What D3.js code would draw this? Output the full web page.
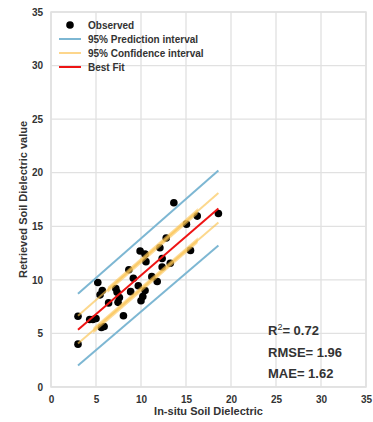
<!DOCTYPE html>
<html>
<head>
<meta charset="utf-8">
<script src="https://cdn.jsdelivr.net/npm/d3@7/dist/d3.min.js"></script>
<style>
  html, body { margin: 0; padding: 0; background: #fff; }
  svg { display: block; font-family: "Liberation Sans", Arial, sans-serif; }
</style>
</head>
<body>
<svg id="chart" width="373" height="422"></svg>
<script>
// Observed vs retrieved soil dielectric
const obsX = [3.0, 3.0, 4.3, 4.65, 5.0, 5.2, 5.45, 5.7, 5.6, 5.9, 6.4, 7.2, 7.35, 7.6, 7.45,
              8.05, 8.65, 8.85, 9.15, 9.7, 9.9, 10.45, 10.55, 10.45, 10.2, 10.0, 11.2, 11.8,
              12.1, 12.35, 12.35, 12.8, 13.25, 13.65, 15.05, 15.5, 16.25, 18.6];
const obsY = [6.6, 4.0, 6.3, 6.3, 6.4, 9.75, 8.6, 9.0, 5.55, 5.65, 7.85, 9.2, 8.85, 8.35, 7.9,
              6.65, 10.95, 8.9, 10.15, 9.45, 12.7, 12.4, 11.7, 9.0, 8.45, 8.05, 10.3, 9.85,
              13.0, 12.0, 11.2, 13.9, 11.55, 17.2, 15.2, 12.75, 15.95, 16.2];

// Regression line and intervals, evaluated at the ends of the observed range
const lineX   = [3.0, 18.6];
const fitY    = [5.35, 16.67];
const piUpper = [8.7, 20.2];
const piLower = [2.0, 13.2];
const ciUpper = [6.65, 18.1];
const ciLower = [4.05, 15.35];

// x-ranges where the confidence lines overlap most densely
const ciUpperDense = [6.3, 16.3];
const ciLowerDense = [4.7, 16.3];

const xTicks = [0, 5, 10, 15, 20, 25, 30, 35];
const yTicks = [0, 5, 10, 15, 20, 25, 30, 35];

const stats = [
  { label: "R", sup: "2", value: "= 0.72" },
  { label: "RMSE", sup: "", value: "= 1.96" },
  { label: "MAE", sup: "", value: "= 1.62" }
];

const legendItems = [
  { label: "Observed", type: "dot", color: "#000" },
  { label: "95% Prediction interval", type: "line", color: "#7db7d3" },
  { label: "95% Confidence interval", type: "line", color: "#fdd68c" },
  { label: "Best Fit", type: "line", color: "#ee1414" }
];

const svg = d3.select("#chart");
const plotL = 51, plotR = 366, plotT = 12, plotB = 387;

const x = d3.scaleLinear().domain([0, 35]).range([plotL, plotR]);
const y = d3.scaleLinear().domain([0, 35]).range([plotB, plotT]);

const gridColor = "#e1e1e1";
const textColor = "#333";

// grid
svg.append("g").selectAll("line").data(xTicks).join("line")
  .attr("x1", d => x(d)).attr("x2", d => x(d))
  .attr("y1", plotT).attr("y2", plotB)
  .attr("stroke", gridColor).attr("stroke-width", 1.3);
svg.append("g").selectAll("line").data(yTicks).join("line")
  .attr("x1", plotL).attr("x2", plotR)
  .attr("y1", d => y(d)).attr("y2", d => y(d))
  .attr("stroke", gridColor).attr("stroke-width", 1.3);

// frame
svg.append("rect")
  .attr("x", plotL).attr("y", plotT)
  .attr("width", plotR - plotL).attr("height", plotB - plotT)
  .attr("fill", "none").attr("stroke", gridColor).attr("stroke-width", 1.5);

// x axis
const xAxis = svg.append("g").attr("transform", `translate(0,${plotB})`)
  .call(d3.axisBottom(x).tickValues(xTicks).tickSize(0).tickPadding(9));
xAxis.select(".domain").remove();
xAxis.selectAll("text")
  .attr("fill", textColor).style("font-size", "10px").style("font-weight", "bold");

// y axis
const yAxis = svg.append("g").attr("transform", `translate(${plotL},0)`)
  .call(d3.axisLeft(y).tickValues(yTicks).tickSize(0).tickPadding(8));
yAxis.select(".domain").remove();
yAxis.selectAll("text")
  .attr("fill", textColor).style("font-size", "10px").style("font-weight", "bold");

// axis titles
svg.append("text")
  .attr("x", (plotL + plotR) / 2).attr("y", 415)
  .attr("text-anchor", "middle")
  .attr("fill", textColor).style("font-size", "11px").style("font-weight", "bold")
  .text("In-situ Soil Dielectric");
svg.append("text")
  .attr("transform", `translate(27,${(plotT + plotB) / 2}) rotate(-90)`)
  .attr("text-anchor", "middle")
  .attr("fill", textColor).style("font-size", "11px").style("font-weight", "bold")
  .text("Retrieved Soil Dielectric value");

// observed points
svg.append("g").selectAll("circle").data(obsX.map((d, i) => [d, obsY[i]])).join("circle")
  .attr("cx", d => x(d[0])).attr("cy", d => y(d[1]))
  .attr("r", 3.8).attr("fill", "#000");

const line = d3.line().x(d => x(d[0])).y(d => y(d[1]));
const pairs = ys => lineX.map((d, i) => [d, ys[i]]);

// clip regions for the dense parts of the confidence lines
const defs = svg.append("defs");
[["clipU", ciUpperDense], ["clipL", ciLowerDense]].forEach(([id, r]) => {
  defs.append("clipPath").attr("id", id).append("rect")
    .attr("x", x(r[0])).attr("y", plotT)
    .attr("width", x(r[1]) - x(r[0])).attr("height", plotB - plotT);
});

// prediction interval
[piUpper, piLower].forEach(ys => {
  svg.append("path").datum(pairs(ys)).attr("d", line)
    .attr("fill", "none").attr("stroke", "#7db7d3").attr("stroke-width", 2);
});

// confidence interval
[[ciUpper, "clipU"], [ciLower, "clipL"]].forEach(([ys, clip]) => {
  svg.append("path").datum(pairs(ys)).attr("d", line)
    .attr("fill", "none").attr("stroke", "#fbc350").attr("stroke-opacity", 0.65)
    .attr("stroke-width", 2);
  svg.append("path").datum(pairs(ys)).attr("d", line)
    .attr("clip-path", `url(#${clip})`)
    .attr("fill", "none").attr("stroke", "#fbc350").attr("stroke-opacity", 0.6)
    .attr("stroke-width", 4.5);
});

// best fit
svg.append("path").datum(pairs(fitY)).attr("d", line)
  .attr("fill", "none").attr("stroke", "#ee1414").attr("stroke-width", 2);

// legend
const lg = svg.append("g");
legendItems.forEach((d, i) => {
  const cy = 25 + i * 14;
  if (d.type === "dot") {
    lg.append("circle").attr("cx", 70).attr("cy", cy).attr("r", 3.8).attr("fill", d.color);
  } else {
    lg.append("line").attr("x1", 59).attr("x2", 81).attr("y1", cy).attr("y2", cy)
      .attr("stroke", d.color).attr("stroke-width", 2);
  }
  lg.append("text").attr("x", 88).attr("y", cy + 3.5)
    .attr("fill", textColor).style("font-size", "10px").style("font-weight", "bold")
    .text(d.label);
});

// fit statistics
const st = svg.append("g");
stats.forEach((d, i) => {
  const t = st.append("text").attr("x", 268).attr("y", 335 + i * 21.5)
    .attr("fill", textColor).style("font-size", "13px").style("font-weight", "bold");
  t.append("tspan").text(d.label);
  if (d.sup) {
    t.append("tspan").attr("dy", -5).style("font-size", "9px").style("font-weight", "normal").text(d.sup);
    t.append("tspan").attr("dy", 5).text(d.value);
  } else {
    t.append("tspan").text(d.value);
  }
});
</script>
</body>
</html>
